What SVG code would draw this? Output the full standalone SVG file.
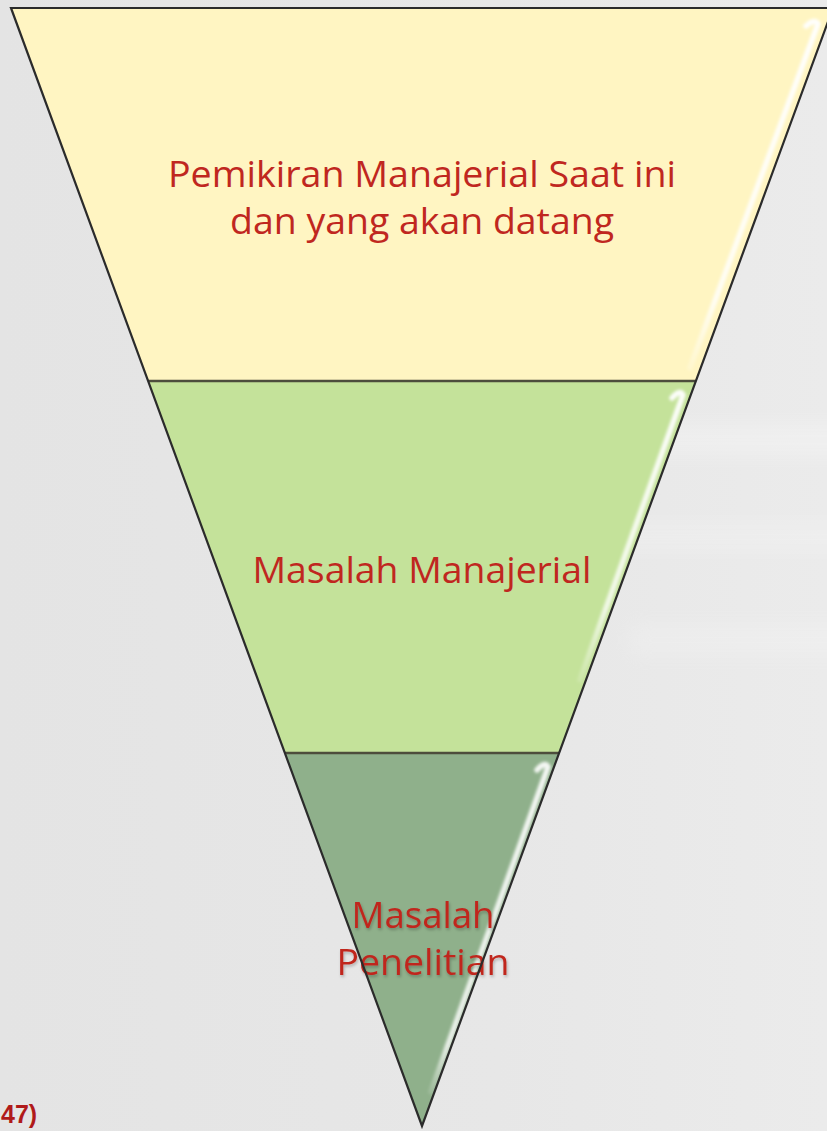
<svg xmlns="http://www.w3.org/2000/svg" width="827" height="1131" viewBox="0 0 827 1131">
<defs>
<style>
.band{stroke:none}
.edge{fill:none;stroke:#2b2b2b;stroke-width:2.2;stroke-linejoin:miter}
.sep{stroke:#4d4d3c;stroke-width:2.6}
.lbl{font-family:"Open Sans","Liberation Sans",sans-serif;font-size:37px;fill:#c0271f;text-anchor:middle}
.hl{fill:none;stroke-width:5.5;stroke-linecap:round}
</style>
<linearGradient id="bg" x1="0" y1="0" x2="1" y2="0">
<stop offset="0" stop-color="#e4e4e4"/>
<stop offset="0.6" stop-color="#e7e7e7"/>
<stop offset="1" stop-color="#ebebeb"/>
</linearGradient>
<linearGradient id="hl1" gradientUnits="userSpaceOnUse" x1="0" y1="20" x2="0" y2="370">
<stop offset="0" stop-color="#ffffff" stop-opacity="0.95"/>
<stop offset="0.8" stop-color="#ffffff" stop-opacity="0.8"/>
<stop offset="1" stop-color="#ffffff" stop-opacity="0.2"/>
</linearGradient>
<linearGradient id="hl2" gradientUnits="userSpaceOnUse" x1="0" y1="392" x2="0" y2="700">
<stop offset="0" stop-color="#ffffff" stop-opacity="0.95"/>
<stop offset="0.7" stop-color="#ffffff" stop-opacity="0.75"/>
<stop offset="1" stop-color="#ffffff" stop-opacity="0"/>
</linearGradient>
<linearGradient id="hl3" gradientUnits="userSpaceOnUse" x1="0" y1="764" x2="0" y2="1095">
<stop offset="0" stop-color="#ffffff" stop-opacity="0.9"/>
<stop offset="0.85" stop-color="#ffffff" stop-opacity="0.8"/>
<stop offset="1" stop-color="#ffffff" stop-opacity="0.1"/>
</linearGradient>
<filter id="soft" x="-20%" y="-20%" width="140%" height="140%"><feGaussianBlur stdDeviation="1.5"/></filter>
<filter id="blur8" x="-20%" y="-50%" width="140%" height="200%"><feGaussianBlur stdDeviation="10"/></filter>
<filter id="tshadow" x="-10%" y="-20%" width="120%" height="140%">
<feGaussianBlur in="SourceAlpha" stdDeviation="1.5"/>
<feOffset dx="1" dy="1.5" result="o"/>
<feFlood flood-color="#000" flood-opacity="0.25"/>
<feComposite in2="o" operator="in"/>
<feMerge><feMergeNode/><feMergeNode in="SourceGraphic"/></feMerge>
</filter>
</defs>

<g id="background">
<rect width="827" height="1131" fill="url(#bg)"/>
<rect x="580" y="425" width="280" height="30" fill="#ffffff" opacity="0.25" filter="url(#blur8)"/>
<rect x="610" y="525" width="250" height="24" fill="#ffffff" opacity="0.2" filter="url(#blur8)"/>
<rect x="630" y="625" width="230" height="30" fill="#ffffff" opacity="0.18" filter="url(#blur8)"/>
</g>

<g id="node-top">
<polygon class="band" points="11,8 833,8 695.9,381 148.1,381" fill="#fff5c2"/>
<path class="hl" d="M806,26 Q815,18 818,24 L690,368" stroke="url(#hl1)" filter="url(#soft)"/>
<text class="lbl" x="422" y="187" textLength="508" lengthAdjust="spacingAndGlyphs">Pemikiran Manajerial Saat ini</text>
<text class="lbl" x="422" y="234" textLength="384" lengthAdjust="spacingAndGlyphs">dan yang akan datang</text>
</g>

<g id="node-middle">
<polygon class="band" points="148.1,381 695.9,381 559.1,753 284.9,753" fill="#c4e29a"/>
<path class="hl" d="M672,398 Q680,389 683,395 L580,680" stroke="url(#hl2)" filter="url(#soft)"/>
<text class="lbl" x="422" y="583" textLength="339" lengthAdjust="spacingAndGlyphs">Masalah Manajerial</text>
</g>

<g id="node-bottom">
<polygon class="band" points="284.9,753 559.1,753 422,1126" fill="#8fb08b"/>
<path class="hl" d="M537,770 Q545,761 548,767 L431,1092" stroke="url(#hl3)" filter="url(#soft)"/>
<g filter="url(#tshadow)">
<text class="lbl" x="423" y="928" textLength="143" lengthAdjust="spacingAndGlyphs">Masalah</text>
<text class="lbl" x="423" y="975" textLength="173" lengthAdjust="spacingAndGlyphs">Penelitian</text>
</g>
</g>

<g id="outline">
<line class="sep" x1="148.1" y1="381" x2="695.9" y2="381"/>
<line class="sep" x1="284.9" y1="753" x2="559.1" y2="753"/>
<polygon class="edge" points="11,8 833,8 422,1126"/>
</g>

<g id="footnote">
<text x="1" y="1123" font-family="Liberation Sans, Arial, sans-serif" font-weight="bold" font-size="25" fill="#b01a1a">47)</text>
</g>
</svg>
